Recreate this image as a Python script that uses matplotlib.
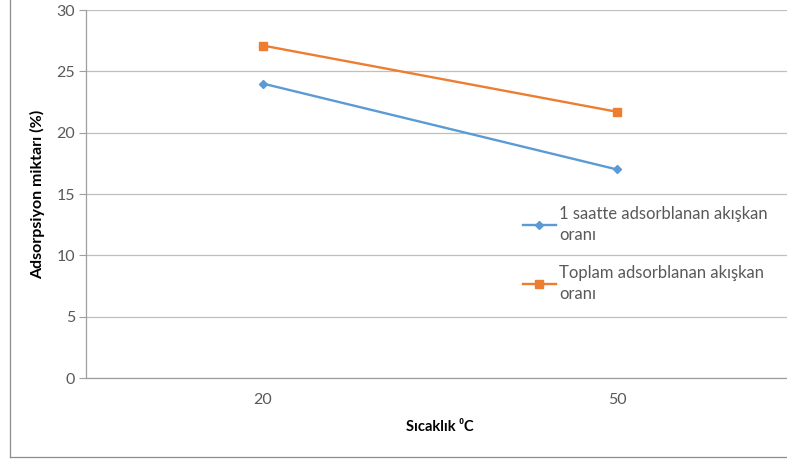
import matplotlib
matplotlib.use("Agg")
import matplotlib.pyplot as plt
from matplotlib.lines import Line2D

categories = ["20", "50"]
saatte_1 = [24.0, 17.0]
toplam = [27.1, 21.7]
series_labels = ["1 saatte adsorblanan akışkan\noranı", "Toplam adsorblanan akışkan\noranı"]
y_ticks = [0, 5, 10, 15, 20, 25, 30]

plt.rcParams["font.family"] = ["Lato", "DejaVu Sans"]

W, H = 787, 463
fig = plt.figure(figsize=(W / 100, H / 100), dpi=100)
ax = fig.add_axes([86 / W, 1 - 378 / H, (794 - 86) / W, (378 - 10) / H])

x = [0, 1]
blue = "#5b9bd5"
orange = "#ed7d31"
ax.plot(x, saatte_1, color=blue, lw=1.7, marker="D", ms=4.5, label=series_labels[0], zorder=3)
ax.plot(x, toplam, color=orange, lw=1.7, marker="s", ms=5.5, label=series_labels[1], zorder=3)

ax.set_xlim(-0.5, 1.5)
ax.set_ylim(0, 30)
ax.set_yticks(y_ticks)
ax.set_xticks(x)
ax.set_xticklabels(categories)
ax.grid(axis="y", color="#bfbfbf", lw=0.9)
ax.set_axisbelow(True)

for s in ["top", "right"]:
    ax.spines[s].set_visible(False)
for s in ["left", "bottom"]:
    ax.spines[s].set_color("#9f9f9f")
    ax.spines[s].set_linewidth(0.9)

ax.tick_params(axis="y", length=5, color="#9f9f9f", labelsize=11.5, labelcolor="#595959", pad=3)
ax.tick_params(axis="x", length=0, labelsize=11.5, labelcolor="#595959", pad=11)

ax.set_ylabel("Adsorpsiyon miktarı (%)", fontsize=11.5, fontweight="bold", labelpad=8)
ax.set_xlabel("Sıcaklık ⁰C", fontsize=10.5, fontweight="bold", labelpad=9)

leg = ax.legend(loc="upper left", bbox_to_anchor=(516 / W, 1 - 199 / H),
                bbox_transform=fig.transFigure, frameon=False, fontsize=12,
                labelcolor="#595959", handlelength=2.0, handletextpad=0.2,
                labelspacing=1.3, borderaxespad=0)
for t in leg.get_texts():
    t.set_linespacing(1.4)

# outer chart border
fig.add_artist(Line2D([10 / W, 10 / W], [1 - 457 / H, 1], transform=fig.transFigure,
                      color="#8c8c8c", lw=0.9))
fig.add_artist(Line2D([10 / W, 1], [1 - 457 / H, 1 - 457 / H], transform=fig.transFigure,
                      color="#8c8c8c", lw=0.9))

fig.savefig("out.png", dpi=100, facecolor="white")
